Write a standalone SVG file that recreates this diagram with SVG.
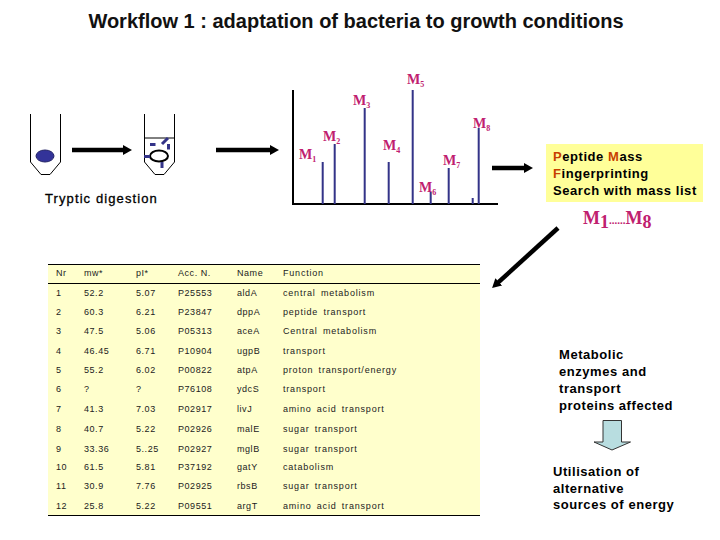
<svg xmlns="http://www.w3.org/2000/svg" width="720" height="540" viewBox="0 0 720 540">
<style>
text{font-family:"Liberation Sans",Arial,sans-serif;fill:#000}
.t{font-size:9px;letter-spacing:.55px;fill:#222}
.f{font-size:9px;letter-spacing:.8px;word-spacing:2px;fill:#222}
.b{font-size:13px;font-weight:700;letter-spacing:.55px}
.m{font-family:"Liberation Serif","Times New Roman",serif;font-size:14px;font-weight:700;fill:#c0206f}
.s{font-size:8px}
.peak{stroke:#333388;stroke-width:2;fill:none}
.tube{stroke:#000;stroke-width:1;fill:none}
.frag{stroke:#333388;stroke-width:3;fill:none}
.arr{stroke:#000;stroke-width:4.5;fill:none}
.r{fill:#c84000}
</style>
<defs><marker id="h" markerUnits="userSpaceOnUse" markerWidth="10" markerHeight="12" refX="1" refY="6" orient="auto"><path d="M0 1L9 6L0 11z" fill="#000"/></marker></defs>
<rect width="720" height="540" fill="#fff"/>
<text x="356" y="27.500" text-anchor="middle" style="font-size:20px;font-weight:700;fill:#111">Workflow 1 : adaptation of bacteria to growth conditions</text>
<g id="tube1"><path class="tube" d="M30.500 114V162L41 174.500H50L60.500 162V114"/><ellipse cx="45" cy="156" rx="9" ry="6" fill="#333399" stroke="#222266"/></g>
<g id="tube2"><path class="tube" d="M144.500 114V162L155 174.500H164L174.500 162V114M144.500 138H174.500"/><ellipse cx="159" cy="156" rx="9" ry="5.500" fill="#fff" stroke="#000" stroke-width="2"/><path class="frag" d="M150 144.500H155.500M162 144L168 138M168.500 144V149.500M144 156.500H150M162 162V168"/></g>
<g id="tryptic"><text x="45" y="203" style="font-size:13px;letter-spacing:1.1px;stroke:#000;stroke-width:.3">Tryptic digestion</text></g>
<g id="spectrum">
<path d="M293 90V204H498" fill="none" stroke="#000" stroke-width="2"/>
<path class="peak" d="M322.700 204V162M334.700 204V144M364.700 204V108M388.700 204V162M412.700 204V90M430.700 204V192M448.700 204V168M472.700 204V198M478.700 204V128"/>
<text class="m" x="299" y="159">M<tspan class="s" dy="3">1</tspan></text>
<text class="m" x="323" y="141">M<tspan class="s" dy="3">2</tspan></text>
<text class="m" x="353" y="105">M<tspan class="s" dy="3">3</tspan></text>
<text class="m" x="383" y="150">M<tspan class="s" dy="3">4</tspan></text>
<text class="m" x="407" y="84">M<tspan class="s" dy="3">5</tspan></text>
<text class="m" x="419" y="192">M<tspan class="s" dy="3">6</tspan></text>
<text class="m" x="443" y="165">M<tspan class="s" dy="3">7</tspan></text>
<text class="m" x="473" y="128">M<tspan class="s" dy="3">8</tspan></text>
</g>
<g id="pmf"><rect x="546" y="144" width="157" height="58" fill="#ffff99"/>
<text class="b" x="553" y="161"><tspan class="r">P</tspan>eptide <tspan class="r">M</tspan>ass</text>
<text class="b" x="553" y="178"><tspan class="r">F</tspan>ingerprinting</text>
<text class="b" x="553" y="195">Search with mass list</text></g>
<g id="masslist"><text x="583" y="224" style="font-family:'Liberation Serif',serif;font-size:18px;font-weight:700;fill:#c0206f">M<tspan dy="4">1</tspan><tspan dy="-4" font-size="11">......</tspan>M<tspan dy="4">8</tspan></text></g>
<g id="connectors">
<path class="arr" d="M72 150H124" marker-end="url(#h)"/>
<path class="arr" d="M216 150H271" marker-end="url(#h)"/>
<path class="arr" d="M492 168H525" marker-end="url(#h)"/>
<path class="arr" d="M558 228L498 282.600" marker-end="url(#h)"/>
</g>
<g id="table">
<rect x="48" y="264" width="432" height="251" fill="#ffffcc"/>
<path d="M48 264.500H480M48 283.500H480M48 515.500H480" stroke="#000" fill="none"/>
<text class="t" x="56" y="276">Nr</text><text class="t" x="84" y="276">mw*</text><text class="t" x="136" y="276">pI*</text><text class="t" x="178" y="276">Acc. N.</text><text class="t" x="237" y="276">Name</text><text class="f" x="283" y="276">Function</text>
<text class="t" x="56" y="296">1</text><text class="t" x="84" y="296">52.2</text><text class="t" x="136" y="296">5.07</text><text class="t" x="178" y="296">P25553</text><text class="t" x="237" y="296">aldA</text><text class="f" x="283" y="296">central metabolism</text>
<text class="t" x="56" y="315">2</text><text class="t" x="84" y="315">60.3</text><text class="t" x="136" y="315">6.21</text><text class="t" x="178" y="315">P23847</text><text class="t" x="237" y="315">dppA</text><text class="f" x="283" y="315">peptide transport</text>
<text class="t" x="56" y="334">3</text><text class="t" x="84" y="334">47.5</text><text class="t" x="136" y="334">5.06</text><text class="t" x="178" y="334">P05313</text><text class="t" x="237" y="334">aceA</text><text class="f" x="283" y="334">Central metabolism</text>
<text class="t" x="56" y="354">4</text><text class="t" x="84" y="354">46.45</text><text class="t" x="136" y="354">6.71</text><text class="t" x="178" y="354">P10904</text><text class="t" x="237" y="354">ugpB</text><text class="f" x="283" y="354">transport</text>
<text class="t" x="56" y="373">5</text><text class="t" x="84" y="373">55.2</text><text class="t" x="136" y="373">6.02</text><text class="t" x="178" y="373">P00822</text><text class="t" x="237" y="373">atpA</text><text class="f" x="283" y="373">proton transport/energy</text>
<text class="t" x="56" y="392">6</text><text class="t" x="84" y="392">?</text><text class="t" x="136" y="392">?</text><text class="t" x="178" y="392">P76108</text><text class="t" x="237" y="392">ydcS</text><text class="f" x="283" y="392">transport</text>
<text class="t" x="56" y="412">7</text><text class="t" x="84" y="412">41.3</text><text class="t" x="136" y="412">7.03</text><text class="t" x="178" y="412">P02917</text><text class="t" x="237" y="412">livJ</text><text class="f" x="283" y="412">amino acid transport</text>
<text class="t" x="56" y="432">8</text><text class="t" x="84" y="432">40.7</text><text class="t" x="136" y="432">5.22</text><text class="t" x="178" y="432">P02926</text><text class="t" x="237" y="432">malE</text><text class="f" x="283" y="432">sugar transport</text>
<text class="t" x="56" y="452">9</text><text class="t" x="84" y="452">33.36</text><text class="t" x="136" y="452">5..25</text><text class="t" x="178" y="452">P02927</text><text class="t" x="237" y="452">mglB</text><text class="f" x="283" y="452">sugar transport</text>
<text class="t" x="56" y="470">10</text><text class="t" x="84" y="470">61.5</text><text class="t" x="136" y="470">5.81</text><text class="t" x="178" y="470">P37192</text><text class="t" x="237" y="470">gatY</text><text class="f" x="283" y="470">catabolism</text>
<text class="t" x="56" y="489">11</text><text class="t" x="84" y="489">30.9</text><text class="t" x="136" y="489">7.76</text><text class="t" x="178" y="489">P02925</text><text class="t" x="237" y="489">rbsB</text><text class="f" x="283" y="489">sugar transport</text>
<text class="t" x="56" y="509">12</text><text class="t" x="84" y="509">25.8</text><text class="t" x="136" y="509">5.22</text><text class="t" x="178" y="509">P09551</text><text class="t" x="237" y="509">argT</text><text class="f" x="283" y="509">amino acid transport</text>
</g>
<g id="metabolic">
<text class="b" x="559" y="359">Metabolic</text><text class="b" x="559" y="376">enzymes and</text><text class="b" x="559" y="393">transport</text><text class="b" x="559" y="410">proteins affected</text></g>
<g id="downarrow"><path d="M603 420.500H621.500V442H630.500L612 450L594 442H603Z" fill="#b8dde0" stroke="#333"/></g>
<g id="utilisation">
<text class="b" x="553" y="476">Utilisation of</text><text class="b" x="553" y="493">alternative</text><text class="b" x="553" y="509">sources of energy</text></g>
</svg>
